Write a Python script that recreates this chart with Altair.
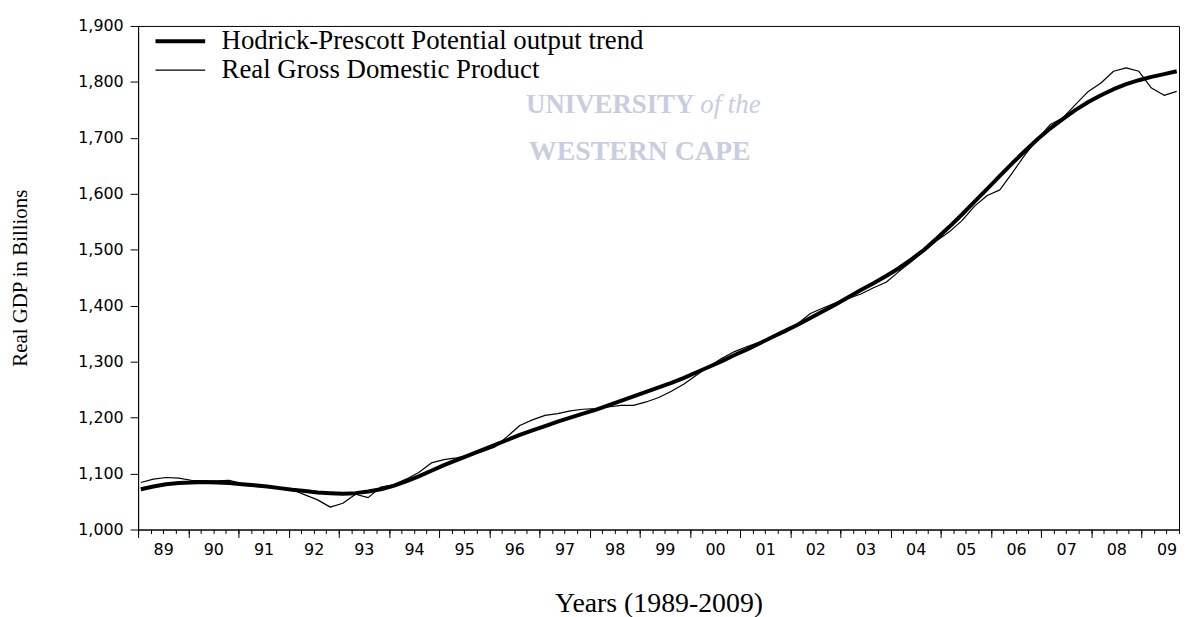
import altair as alt
import pandas as pd

# ---------------- data ----------------
QUARTERS = [f"{y}Q{q}" for y in range(1989, 2010) for q in range(1, 5)][:83]

GDP = [
    1084, 1090, 1093, 1092,   # 1989
    1088, 1087, 1087, 1088,   # 1990
    1082, 1077, 1076, 1075,   # 1991
    1071, 1062, 1053, 1040,   # 1992
    1047, 1063, 1057, 1076,   # 1993
    1080, 1090, 1102, 1119,   # 1994
    1125, 1128, 1133, 1139,   # 1995
    1147, 1166, 1186, 1196,   # 1996
    1204, 1207, 1212, 1215,   # 1997
    1216, 1219, 1222, 1222,   # 1998
    1228, 1236, 1247, 1260,   # 1999
    1276, 1292, 1306, 1318,   # 2000
    1327, 1335, 1343, 1352,   # 2001
    1368, 1386, 1396, 1405,   # 2002
    1413, 1421, 1432, 1442,   # 2003
    1461, 1479, 1497, 1516,   # 2004
    1532, 1552, 1578, 1597,   # 2005
    1607, 1638, 1670, 1698,   # 2006
    1724, 1736, 1760, 1783,   # 2007
    1798, 1819, 1825, 1819,   # 2008
    1789, 1776, 1783,         # 2009
]

HP = [
    1072, 1077, 1081, 1083,   # 1989
    1084, 1085, 1084, 1083,   # 1990
    1081, 1079, 1077, 1074,   # 1991
    1071, 1069, 1066, 1065,   # 1992
    1064, 1065, 1068, 1072,   # 1993
    1078, 1086, 1095, 1105,   # 1994
    1115, 1124, 1133, 1142,   # 1995
    1151, 1160, 1169, 1177,   # 1996
    1185, 1193, 1200, 1207,   # 1997
    1214, 1222, 1230, 1238,   # 1998
    1246, 1254, 1262, 1271,   # 1999
    1281, 1291, 1301, 1312,   # 2000
    1322, 1333, 1344, 1355,   # 2001
    1366, 1378, 1390, 1402,   # 2002
    1415, 1428, 1440, 1453,   # 2003
    1467, 1483, 1500, 1520,   # 2004
    1541, 1563, 1586, 1609,   # 2005
    1632, 1655, 1677, 1698,   # 2006
    1717, 1734, 1750, 1764,   # 2007
    1776, 1787, 1796, 1803,   # 2008
    1809, 1814, 1819,         # 2009
]

YEARS = list(range(1989, 2010))
Y_TICKS = list(range(1000, 1901, 100))

HP_NAME = "Hodrick-Prescott Potential output trend"
GDP_NAME = "Real Gross Domestic Product"
X_TITLE = "Years (1989-2009)"
Y_TITLE = "Real GDP in Billions"
WM_LINE1 = "UNIVERSITY"
WM_LINE1B = "of the"
WM_LINE2 = "WESTERN CAPE"

# ---------------- tables ----------------
rows = []
for i, q in enumerate(QUARTERS):
    rows.append({"t": i, "quarter": q, "value": HP[i], "series": HP_NAME})
for i, q in enumerate(QUARTERS):
    rows.append({"t": i, "quarter": q, "value": GDP[i], "series": GDP_NAME})
df = pd.DataFrame(rows)
yr_df = pd.DataFrame({"yr": YEARS})

W, H = 1048, 507
T_DOMAIN = [-0.21, 82.18]
YR_DOMAIN = [1989, 2009.75]
quarter_ticks = [1989 + i * 0.25 for i in range(84)]
year_ticks = [float(y) for y in YEARS]
label_vals = [y + 0.5 for y in YEARS]

SANS = "DejaVu Sans"
SERIF = "Liberation Serif"

# ---------------- layers ----------------
wm_color = "#c9cde0"
wm1 = alt.Chart(pd.DataFrame({"s": [WM_LINE1]})).mark_text(
    font=SERIF, fontSize=27, fontWeight="bold", color=wm_color, align="right", baseline="middle"
).encode(x=alt.value(560), y=alt.value(80), text="s:N")
wm1b = alt.Chart(pd.DataFrame({"s": [WM_LINE1B]})).mark_text(
    font=SERIF, fontSize=27, fontStyle="italic", color=wm_color, align="left", baseline="middle"
).encode(x=alt.value(566), y=alt.value(80), text="s:N")
wm2 = alt.Chart(pd.DataFrame({"s": [WM_LINE2]})).mark_text(
    font=SERIF, fontSize=28, fontWeight="bold", color=wm_color, align="center", baseline="middle"
).encode(x=alt.value(505), y=alt.value(127), text="s:N")

lines = alt.Chart(df).mark_line(color="black", strokeJoin="round").encode(
    x=alt.X("t:Q", scale=alt.Scale(domain=T_DOMAIN, nice=False, zero=False), axis=None),
    y=alt.Y(
        "value:Q",
        scale=alt.Scale(domain=[1000, 1900], nice=False, zero=False),
        axis=alt.Axis(
            values=Y_TICKS, format=",d", tickSize=8, labelPadding=7,
            labelFont=SANS, labelFontSize=16, labelColor="black",
            tickColor="black", domainColor="black", grid=False,
            title=Y_TITLE, titleFont=SERIF, titleFontSize=21, titleFontWeight="normal",
            titleColor="black", titleX=-118, titleY=253.5, titleAngle=270,
            titleAlign="center", titleBaseline="middle",
        ),
    ),
    strokeWidth=alt.StrokeWidth(
        "series:O",
        scale=alt.Scale(domain=[HP_NAME, GDP_NAME], range=[4, 1.2]),
        legend=alt.Legend(
            title=None, orient="none", legendX=29, legendY=2, padding=0,
            symbolType="M-2.5,0H2.5", symbolSize=400, symbolStrokeColor="black",
            labelFont=SERIF, labelFontSize=27, labelColor="black", labelOffset=28,
            labelLimit=800, rowPadding=1,
        ),
    ),
    detail="series:N",
)

qtr_axis = alt.Chart(yr_df).mark_point(opacity=0).encode(
    x=alt.X("yr:Q", scale=alt.Scale(domain=YR_DOMAIN, nice=False, zero=False),
            axis=alt.Axis(orient="bottom", values=quarter_ticks, tickSize=4, labels=False,
                          title=None, grid=False, domain=True, domainColor="black",
                          tickColor="black"))
)
yr_axis = alt.Chart(yr_df).mark_point(opacity=0).encode(
    x=alt.X("yr:Q", scale=alt.Scale(domain=YR_DOMAIN, nice=False, zero=False),
            axis=alt.Axis(orient="bottom", values=year_ticks, tickSize=8, labels=False,
                          title=None, grid=False, domain=False, tickColor="black"))
)
lab_axis = alt.Chart(yr_df).mark_point(opacity=0).encode(
    x=alt.X("yr:Q", scale=alt.Scale(domain=YR_DOMAIN, nice=False, zero=False),
            axis=alt.Axis(orient="bottom", values=label_vals, ticks=False, tickSize=0,
                          domain=False, grid=False, labelPadding=12,
                          labelExpr="substring(toString(floor(datum.value)), 2)",
                          labelFont=SANS, labelFontSize=16, labelColor="black",
                          title=X_TITLE, titleFont=SERIF, titleFontSize=28,
                          titleFontWeight="normal", titleColor="black",
                          titleY=75, titleBaseline="middle"))
)

chart = alt.layer(wm1, wm1b, wm2, lines, qtr_axis, yr_axis, lab_axis).resolve_scale(
    x="independent"
).properties(
    width=W, height=H,
    autosize=alt.AutoSizeParams(type="none"),
    padding={"left": 131, "top": 16, "right": 2, "bottom": 86},
    background="white",
).configure_view(stroke="black", strokeWidth=1)

chart.save("out.html", embed_options={"renderer": "svg", "actions": False})
